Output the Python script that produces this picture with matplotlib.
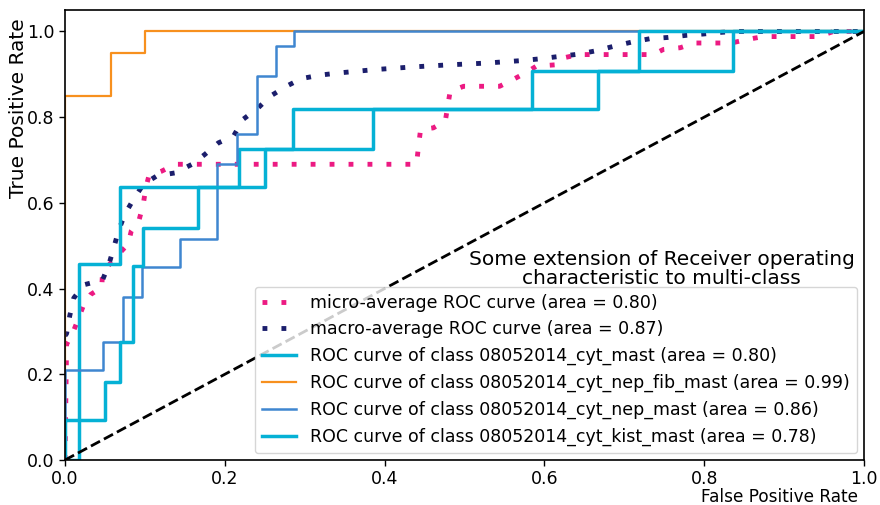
import matplotlib
matplotlib.use("Agg")
import matplotlib.pyplot as plt

# ---- data ----
micro_fpr = [0, 0.002, 0.01, 0.016, 0.023, 0.032, 0.046, 0.047, 0.062, 0.079, 0.083, 0.093, 0.098,
             0.101, 0.105, 0.121, 0.138, 0.44, 0.442, 0.445, 0.461, 0.476, 0.48, 0.482, 0.499,
             0.544, 0.561, 0.576, 0.59, 0.613, 0.623, 0.643, 0.736, 0.749, 0.77, 0.788, 0.834,
             0.853, 0.874, 0.943, 0.962, 1.0]
micro_tpr = [0, 0.27, 0.298, 0.326, 0.36, 0.386, 0.403, 0.438, 0.47, 0.504, 0.535, 0.562, 0.597,
             0.634, 0.663, 0.674, 0.69, 0.69, 0.725, 0.771, 0.775, 0.791, 0.837, 0.86, 0.872,
             0.872, 0.888, 0.903, 0.919, 0.922, 0.938, 0.946, 0.946, 0.958, 0.962, 0.973, 0.973,
             0.981, 0.988, 0.988, 1.0, 1.0]

macro_fpr = [0, 0.002, 0.006, 0.011, 0.024, 0.047, 0.055, 0.061, 0.067, 0.075, 0.086, 0.098,
             0.115, 0.138, 0.159, 0.175, 0.192, 0.211, 0.223, 0.242, 0.257, 0.277, 0.296, 0.319,
             0.342, 0.388, 0.434, 0.48, 0.526, 0.572, 0.594, 0.62, 0.643, 0.665, 0.686, 0.709,
             0.732, 0.755, 0.778, 0.799, 0.822, 0.84, 1.0]
macro_tpr = [0.29, 0.295, 0.337, 0.378, 0.409, 0.42, 0.457, 0.495, 0.535, 0.574, 0.609, 0.643,
             0.663, 0.67, 0.69, 0.713, 0.74, 0.756, 0.795, 0.822, 0.849, 0.872, 0.89, 0.898,
             0.903, 0.911, 0.917, 0.922, 0.926, 0.932, 0.936, 0.942, 0.947, 0.955, 0.965, 0.975,
             0.983, 0.986, 0.991, 0.994, 0.998, 1.0, 1.0]

class_names = ["08052014_cyt_mast", "08052014_cyt_nep_fib_mast",
               "08052014_cyt_nep_mast", "08052014_cyt_kist_mast"]
class_auc = [0.80, 0.99, 0.86, 0.78]
micro_auc = 0.80
macro_auc = 0.87

fpr_cyt = [0, 0.018, 0.018, 0.069, 0.069, 0.218, 0.218, 0.285, 0.285, 0.667, 0.667, 0.836, 0.836, 1.0]
tpr_cyt = [0, 0, 0.458, 0.458, 0.636, 0.636, 0.725, 0.725, 0.818, 0.818, 0.907, 0.907, 1.0, 1.0]

fpr_fib = [0, 0, 0.058, 0.058, 0.1, 0.1, 1.0]
tpr_fib = [0, 0.85, 0.85, 0.95, 0.95, 1.0, 1.0]

fpr_nep = [0, 0, 0.048, 0.048, 0.073, 0.073, 0.096, 0.096, 0.144, 0.144, 0.19, 0.19, 0.215, 0.215,
           0.24, 0.24, 0.264, 0.264, 0.287, 0.287, 1.0]
tpr_nep = [0, 0.209, 0.209, 0.275, 0.275, 0.38, 0.38, 0.451, 0.451, 0.516, 0.516, 0.69, 0.69, 0.76,
           0.76, 0.895, 0.895, 0.965, 0.965, 1.0, 1.0]

fpr_kist = [0, 0, 0.05, 0.05, 0.069, 0.069, 0.0855, 0.0855, 0.098, 0.098, 0.167, 0.167, 0.25, 0.25,
            0.386, 0.386, 0.585, 0.585, 0.719, 0.719, 1.0]
tpr_kist = [0, 0.093, 0.093, 0.182, 0.182, 0.275, 0.275, 0.453, 0.453, 0.542, 0.542, 0.636, 0.636,
            0.725, 0.725, 0.818, 0.818, 0.907, 0.907, 1.0, 1.0]

class_fpr = [fpr_cyt, fpr_fib, fpr_nep, fpr_kist]
class_tpr = [tpr_cyt, tpr_fib, tpr_nep, tpr_kist]
class_colors = ["#05b1d5", "#f7901e", "#3f86d0", "#05b1d5"]
class_lw = [2.5, 1.6, 1.8, 2.5]

title = "Some extension of Receiver operating\ncharacteristic to multi-class"

# ---- plot ----
fig = plt.figure(figsize=(8.8, 5.05), dpi=100)
ax = fig.add_axes([65/880, 1-460/505, (864-65)/880, (460-10)/505])

ax.plot(micro_fpr, micro_tpr, color="#ec1a82", lw=3.5, dashes=(1, 2.9),
        label="micro-average ROC curve (area = {0:0.2f})".format(micro_auc))
ax.plot(macro_fpr, macro_tpr, color="#1b1e6c", lw=3.5, dashes=(1, 2.9),
        label="macro-average ROC curve (area = {0:0.2f})".format(macro_auc))
for f, t, c, lw, n, a in zip(class_fpr, class_tpr, class_colors, class_lw, class_names, class_auc):
    ax.plot(f, t, color=c, lw=lw,
            label="ROC curve of class {0} (area = {1:0.2f})".format(n, a))
ax.plot([0, 1], [0, 1], "k--", lw=2)

ax.set_xlim(0.0, 1.0)
ax.set_ylim(0.0, 1.05)
ax.set_xticks([0, 0.2, 0.4, 0.6, 0.8, 1.0])
ax.set_yticks([0, 0.2, 0.4, 0.6, 0.8, 1.0])
ax.tick_params(labelsize=12.5, length=4, width=1)
ax.set_xlabel("False Positive Rate", fontsize=12.2, loc="right")
ax.xaxis.set_label_coords(1 - 6/799, -28/450)
ax.set_ylabel("True Positive Rate", fontsize=14.5, loc="top")
ax.yaxis.set_label_coords(-37/799, 1 - 8/450)
for s in ax.spines.values():
    s.set_linewidth(1.2)

ax.text(0.747, 0.466, title, transform=ax.transAxes, ha="center", va="top",
        fontsize=14.5, linespacing=1.0)
ax.legend(loc="lower right", fontsize=12.5, borderaxespad=0.4, handlelength=2.0,
          labelspacing=0.5, borderpad=0.4)

fig.savefig("out.png", dpi=100)
